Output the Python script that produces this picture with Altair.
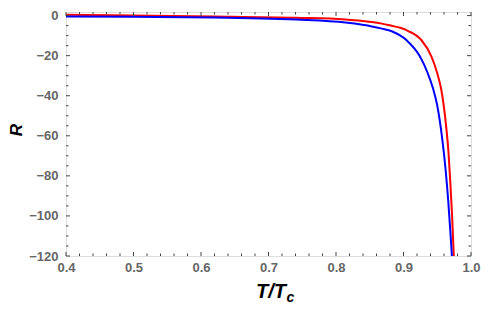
import altair as alt
import pandas as pd
import numpy as np

# --- data ---
red_T = [0.40, 0.50, 0.619, 0.741, 0.814, 0.839, 0.853, 0.868, 0.8826, 0.895, 0.9071, 0.9267,
         0.9413, 0.9497, 0.956, 0.9623, 0.9667, 0.9696, 0.9721, 0.9745]
red_R = [0.4, 0.1, -0.4, -1.1, -1.9, -2.7, -3.2, -4.0, -5.1, -6.1, -7.7, -12.3,
         -20.3, -28.4, -37.0, -52.5, -68.5, -84.6, -100.7, -120.0]

blue_T = [0.40, 0.50, 0.619, 0.741, 0.814, 0.839, 0.853, 0.868, 0.8826, 0.9046, 0.9242,
          0.9355, 0.9438, 0.9497, 0.957, 0.9623, 0.9663, 0.9696, 0.9717]
blue_R = [-0.4, -0.6, -0.9, -2.0, -3.5, -4.6, -5.4, -6.5, -7.8, -12.3, -20.3,
          -28.4, -36.4, -44.4, -60.5, -76.6, -92.6, -108.7, -120.0]

x_major = [0.4, 0.5, 0.6, 0.7, 0.8, 0.9, 1.0]
x_minor = [round(v, 2) for v in np.arange(0.42, 1.0, 0.02) if round(v * 50) % 5 != 0]
y_major = [0, -20, -40, -60, -80, -100, -120]
y_minor = [v for v in range(-115, 1, 5) if v % 20 != 0]

W, H = 405, 244
XDOM = [0.4, 1.0]
YDOM = [-120, 1.8]
FONT = "Liberation Sans"

xs = alt.Scale(domain=XDOM, nice=False, zero=False)
ys = alt.Scale(domain=YDOM, nice=False, zero=False)

df = pd.concat([
    pd.DataFrame({"T": red_T, "R": red_R, "s": "red", "o": range(len(red_T))}),
    pd.DataFrame({"T": blue_T, "R": blue_R, "s": "blue", "o": range(len(blue_T))}),
])

x_axis = alt.Axis(values=x_major, format=".1f", domain=False, ticks=False, grid=False,
                  labelFont=FONT, labelFontWeight="bold", labelFontSize=13, labelFlush=False,
                  labelColor="#666666", labelPadding=5, title="")
y_axis = alt.Axis(values=y_major, format="d", domain=False, ticks=False, grid=False,
                  labelFont=FONT, labelFontWeight="bold", labelFontSize=13, labelFlush=False,
                  labelColor="#666666", labelPadding=8, title="")


def curve(color):
    return alt.Chart(df).transform_filter(alt.datum.s == color).mark_line(
        color="#ff0000" if color == "red" else "#0000ff", strokeWidth=2,
        interpolate="monotone", clip=True
    ).encode(
        x=alt.X("T:Q", scale=xs, axis=x_axis),
        y=alt.Y("R:Q", scale=ys, axis=y_axis),
        order="o:Q",
    )


TICKC = "#444444"


def xticks(vals, length):
    d = pd.DataFrame({"T": vals})
    bottom = alt.Chart(d).mark_rule(color=TICKC, strokeWidth=1).encode(
        x=alt.X("T:Q", scale=xs, axis=x_axis), y=alt.value(H), y2=alt.value(H - length))
    top = alt.Chart(d).mark_rule(color=TICKC, strokeWidth=1).encode(
        x=alt.X("T:Q", scale=xs, axis=x_axis), y=alt.value(0), y2=alt.value(length))
    return [bottom, top]


def yticks(vals, length):
    d = pd.DataFrame({"R": vals})
    left = alt.Chart(d).mark_rule(color=TICKC, strokeWidth=1).encode(
        y=alt.Y("R:Q", scale=ys, axis=y_axis), x=alt.value(0), x2=alt.value(length))
    right = alt.Chart(d).mark_rule(color=TICKC, strokeWidth=1).encode(
        y=alt.Y("R:Q", scale=ys, axis=y_axis), x=alt.value(W), x2=alt.value(W - length))
    return [left, right]


one = pd.DataFrame({"k": [0]})


def label(text, x, y, size, angle=0, align="center"):
    return alt.Chart(one).mark_text(
        text=text, font=FONT, fontSize=size, fontWeight="bold", fontStyle="italic",
        color="black", angle=angle, align=align, baseline="alphabetic"
    ).encode(x=alt.value(x), y=alt.value(y))


layers = ([curve("red"), curve("blue")]
          + xticks(x_major, 4) + xticks(x_minor, 2.5) + yticks(y_major, 4) + yticks(y_minor, 2.5)
          + [label("R", -44, 118, 17, angle=270),
             label("T/T", 220, 286, 20, align="right"),
             label("c", 220.5, 290, 14, align="left")])

chart = alt.layer(*layers).properties(
    width=W, height=H,
    autosize=alt.AutoSizeParams(type="none"),
    padding={"left": 58, "top": 4, "right": 12, "bottom": 49},
).configure_view(stroke="#222222", strokeWidth=1).configure(background="white")

chart.save("out.html", embed_options={"renderer": "svg", "actions": False})
